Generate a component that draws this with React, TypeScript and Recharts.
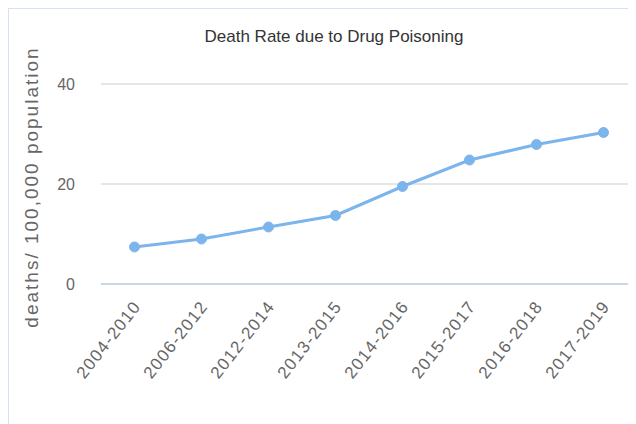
import { LineChart, Line, XAxis, YAxis, CartesianGrid } from 'recharts';

const categories = ['2004-2010', '2006-2012', '2012-2014', '2013-2015', '2014-2016', '2015-2017', '2016-2018', '2017-2019'];
const deathRates = [7.4, 9.0, 11.4, 13.7, 19.5, 24.8, 27.9, 30.3];
const yTicks = [0, 20, 40];

const data = categories.map((period, i) => ({ period, rate: deathRates[i] }));

const FONT = '"Liberation Sans", Arial, sans-serif';

const XTick = (props: any) => {
  const { x, y, payload } = props;
  return (
    <g transform={`translate(${x + 4},${y + 12}) rotate(-52)`}>
      <text x={0} y={0} dy={4} textAnchor="end" fill="#666" fontSize={17} letterSpacing={1.3} fontFamily={FONT}>
        {payload.value}
      </text>
    </g>
  );
};

export default function App() {
  return (
    <div
      style={{
        position: 'relative',
        width: 627,
        height: 415,
        borderTop: '1px solid #d5e2f3',
        borderLeft: '1px solid #d5e2f3',
        overflow: 'hidden',
        background: '#fff',
      }}
    >
      <div
        style={{
          position: 'absolute',
          left: 0,
          width: 650,
          top: 18,
          textAlign: 'center',
          fontFamily: FONT,
          fontSize: 17,
          color: '#333',
        }}
      >
        Death Rate due to Drug Poisoning
      </div>
      <div
        style={{
          position: 'absolute',
          left: 23 - 160,
          top: 178 - 12,
          width: 320,
          height: 24,
          lineHeight: '24px',
          textAlign: 'center',
          transform: 'rotate(-90deg)',
          fontFamily: FONT,
          fontSize: 19,
          letterSpacing: 2,
          color: '#666',
          whiteSpace: 'nowrap',
        }}
      >
        deaths/ 100,000 population
      </div>
      <LineChart width={628} height={415} data={data} margin={{ top: 75, right: 0, bottom: 0, left: 0 }}>
        <CartesianGrid vertical={false} stroke="#e6e6e6" strokeWidth={2} />
        <XAxis
          dataKey="period"
          height={140}
          tickLine={false}
          axisLine={{ stroke: '#ccd6eb', strokeWidth: 2 }}
          tick={<XTick />}
          interval={0}
          padding={{ left: 33.5, right: 33.5 }}
        />
        <YAxis
          width={92}
          domain={[0, 40]}
          ticks={yTicks}
          axisLine={false}
          tickLine={false}
          tick={{ fill: '#666', fontSize: 16, fontFamily: FONT }}
          tickMargin={20}
        />
        <Line
          type="linear"
          dataKey="rate"
          stroke="#7cb5ec"
          strokeWidth={3}
          dot={{ r: 5, fill: '#7cb5ec', stroke: '#7cb5ec', strokeWidth: 1 }}
          isAnimationActive={false}
        />
      </LineChart>
    </div>
  );
}
